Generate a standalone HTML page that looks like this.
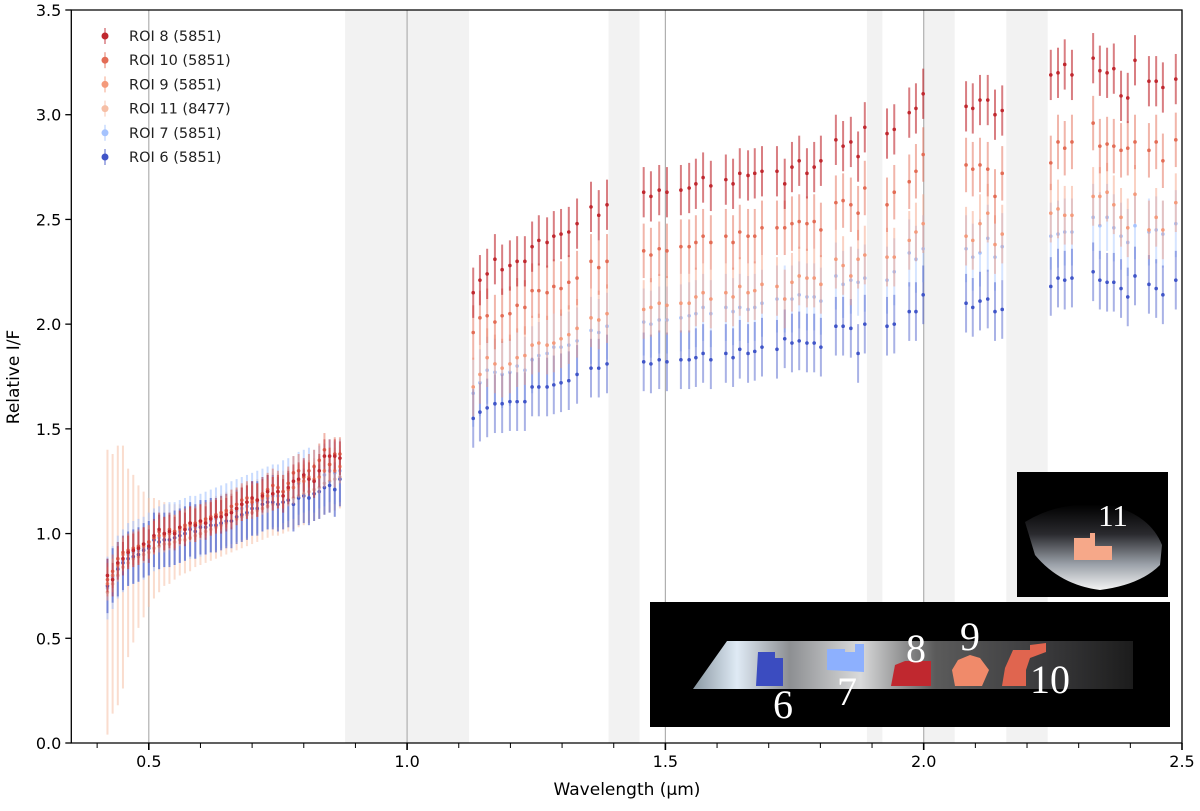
<!DOCTYPE html>
<html><head><meta charset="utf-8"><style>
body{margin:0;background:#fff}
svg text{font-family:"DejaVu Sans","Liberation Sans",sans-serif}
svg text.serif{font-family:"Liberation Serif",serif}
</style></head><body>
<svg id="chart" width="1200" height="806" xmlns="http://www.w3.org/2000/svg">
<g id="bands"></g>
<g id="vlines"></g>
<g id="marks"></g>
<g id="insets">
 <rect x="1017" y="472" width="151" height="125" fill="#000"/>
 <defs><linearGradient id="moon" x1="0" x2="0" y1="0" y2="1"><stop offset="0" stop-color="#000"/><stop offset="0.35" stop-color="#2a2a2e"/><stop offset="0.7" stop-color="#9aa0a8"/><stop offset="1" stop-color="#f4f4f4"/></linearGradient>
 <linearGradient id="strip" x1="0" x2="1"><stop offset="0" stop-color="#8a98a2"/><stop offset="0.1" stop-color="#dfeaf5"/><stop offset="0.22" stop-color="#8d8f92"/><stop offset="0.38" stop-color="#d9dadb"/><stop offset="0.55" stop-color="#5b5b5b"/><stop offset="0.8" stop-color="#3a3a3c"/><stop offset="1" stop-color="#1c1c1c"/></linearGradient></defs>
 <path d="M1025,522 Q1060,500 1110,505 Q1150,515 1162,545 L1160,565 Q1140,585 1100,590 Q1060,585 1035,555 Z" fill="url(#moon)"/>
 <path d="M1074,538 L1090,538 L1090,533 L1095,533 L1095,546 L1112,546 L1112,560 L1074,560 Z" fill="#f6a889"/>
 <text class="serif" x="1113" y="526" fill="#fff" font-size="31" text-anchor="middle">11</text>
 <rect x="650" y="602" width="520" height="125" fill="#000"/>
 <path d="M727,641 L1133,641 L1133,689 L693,689 Z" fill="url(#strip)"/>
 <path d="M758,652 L775,652 L775,658 L783,658 L783,686 L756,686 Z" fill="#3b4cc0"/>
 <path d="M827,649 L845,649 L845,652 L855,652 L855,644 L864,644 L864,672 L827,670 Z" fill="#8db0fe"/>
 <path d="M895,665 L905,661 L931,661 L931,686 L891,686 Z" fill="#c0282f"/>
 <path d="M958,660 L970,655 L980,658 L989,670 L982,686 L955,686 L952,670 Z" fill="#f08a6a"/>
 <path d="M1013,650 L1030,650 L1030,645 L1046,643 L1046,652 L1030,658 L1026,670 L1026,686 L1002,686 L1005,668 Z" fill="#e0654f"/>
 <g fill="#fff" font-size="40">
  <text class="serif" x="783" y="718" text-anchor="middle">6</text>
  <text class="serif" x="847" y="705" text-anchor="middle">7</text>
  <text class="serif" x="916" y="662" text-anchor="middle">8</text>
  <text class="serif" x="970" y="650" text-anchor="middle">9</text>
  <text class="serif" x="1050" y="693" text-anchor="middle">10</text>
 </g>
</g>
<g id="axes"></g>
<g id="legend"></g>
<text x="627" y="795" font-size="17" text-anchor="middle">Wavelength (µm)</text>
<text transform="translate(19,377) rotate(-90)" font-size="17" text-anchor="middle">Relative I/F</text>
</svg>
<script>
const xTicks=[0.5,1.0,1.5,2.0,2.5];
const xTickLabels=["0.5","1.0","1.5","2.0","2.5"];
const yTicks=[0,0.5,1,1.5,2,2.5,3,3.5];
const yTickLabels=["0.0","0.5","1.0","1.5","2.0","2.5","3.0","3.5"];
const gapBands=[[0.88,1.12],[1.39,1.45],[1.89,1.92],[2.0,2.06],[2.16,2.24]];
const visWl=[0.42,0.43,0.44,0.45,0.46,0.47,0.48,0.49,0.50,0.51,0.52,0.53,0.54,0.55,0.56,0.57,0.58,0.59,0.60,0.61,0.62,0.63,0.64,0.65,0.66,0.67,0.68,0.69,0.70,0.71,0.72,0.73,0.74,0.75,0.76,0.77,0.78,0.79,0.80,0.81,0.82,0.83,0.84,0.85,0.86,0.87];
const nirWl=[1.128,1.141,1.155,1.170,1.184,1.199,1.213,1.228,1.242,1.255,1.271,1.284,1.298,1.313,1.329,1.356,1.371,1.387,
1.458,1.472,1.488,1.503,1.530,1.546,1.559,1.573,1.588,1.617,1.631,1.644,1.660,1.673,1.687,1.716,1.731,1.745,1.759,1.774,1.788,1.801,1.830,1.844,1.859,1.873,1.886,
1.929,1.943,1.972,1.985,1.999,
2.082,2.095,2.109,2.124,2.138,2.152,
2.246,2.260,2.273,2.287,2.328,2.341,2.355,2.368,2.382,2.395,2.409,2.436,2.450,2.463,2.488];
const roi8Vis=[0.80,0.78,0.86,0.88,0.91,0.92,0.93,0.95,0.94,0.99,1.02,1.00,1.01,1.00,1.03,1.02,1.05,1.04,1.06,1.05,1.07,1.08,1.08,1.09,1.10,1.12,1.14,1.15,1.17,1.16,1.18,1.20,1.19,1.20,1.18,1.22,1.25,1.26,1.28,1.26,1.25,1.30,1.37,1.37,1.37,1.36];
const roi10Vis=[0.78,0.82,0.88,0.91,0.92,0.93,0.94,0.95,0.96,0.98,1.01,1.00,1.02,1.01,1.03,1.04,1.05,1.05,1.06,1.07,1.08,1.09,1.10,1.11,1.13,1.14,1.16,1.17,1.15,1.16,1.19,1.21,1.23,1.22,1.20,1.24,1.29,1.30,1.27,1.30,1.32,1.35,1.40,1.33,1.38,1.38];
const roi9Vis=[0.76,0.80,0.85,0.90,0.91,0.92,0.93,0.94,0.96,0.98,0.99,0.99,1.00,1.01,1.02,1.03,1.04,1.04,1.05,1.06,1.07,1.08,1.09,1.10,1.11,1.12,1.14,1.15,1.16,1.16,1.17,1.18,1.19,1.20,1.20,1.21,1.22,1.25,1.25,1.27,1.26,1.27,1.30,1.33,1.30,1.32];
const roi11Vis=[0.72,0.76,0.80,0.84,0.86,0.88,0.89,0.90,0.91,0.93,0.94,0.95,0.95,0.96,0.97,0.97,0.98,0.99,1.00,1.01,1.02,1.03,1.04,1.05,1.06,1.07,1.08,1.09,1.10,1.11,1.12,1.13,1.14,1.14,1.15,1.16,1.17,1.18,1.19,1.20,1.21,1.22,1.24,1.25,1.26,1.27];
const roi7Vis=[0.74,0.79,0.84,0.87,0.90,0.91,0.92,0.93,0.95,0.97,0.98,0.99,1.00,1.00,1.01,1.02,1.03,1.03,1.04,1.05,1.06,1.07,1.08,1.09,1.10,1.11,1.12,1.13,1.14,1.15,1.16,1.17,1.18,1.18,1.20,1.21,1.22,1.24,1.25,1.26,1.25,1.27,1.28,1.30,1.29,1.30];
const roi6Vis=[0.75,0.80,0.83,0.86,0.88,0.89,0.90,0.92,0.93,0.97,0.96,0.97,0.97,0.98,0.99,1.00,1.02,1.01,1.03,1.03,1.04,1.04,1.05,1.06,1.06,1.08,1.09,1.10,1.12,1.12,1.14,1.15,1.15,1.14,1.15,1.16,1.14,1.17,1.18,1.17,1.19,1.20,1.22,1.23,1.21,1.26];
const roi11VisErr=[0.68,0.62,0.62,0.58,0.45,0.40,0.34,0.30,0.26,0.24,0.22,0.20,0.19,0.18,0.17,0.16,0.16,0.15,0.15,0.15,0.15,0.15,0.15,0.15,0.15,0.15,0.15,0.15,0.15,0.15,0.15,0.15,0.15,0.15,0.15,0.15,0.15,0.15,0.15,0.15,0.15,0.15,0.15,0.15,0.15,0.15];
const roi8Nir=[2.15,2.21,2.24,2.31,2.26,2.28,2.30,2.30,2.37,2.40,2.39,2.42,2.43,2.44,2.48,2.56,2.52,2.57,
2.63,2.61,2.64,2.63,2.64,2.65,2.67,2.70,2.66,2.69,2.67,2.72,2.71,2.72,2.73,2.73,2.67,2.75,2.78,2.72,2.75,2.78,2.88,2.85,2.87,2.80,2.94,
2.91,2.93,3.01,3.03,3.10, 3.04,3.03,3.07,3.07,3.00,3.02,
3.19,3.20,3.24,3.19,3.27,3.21,3.20,3.22,3.09,3.08,3.26,3.16,3.16,3.13,3.17];
const roi10Nir=[1.96,2.03,2.04,2.01,2.04,2.05,2.09,2.08,2.16,2.16,2.15,2.18,2.17,2.20,2.22,2.30,2.27,2.30,
2.35,2.33,2.36,2.35,2.37,2.37,2.39,2.42,2.39,2.42,2.39,2.44,2.42,2.42,2.46,2.46,2.46,2.48,2.49,2.48,2.49,2.45,2.58,2.59,2.57,2.53,2.65,
2.57,2.63,2.68,2.73,2.81, 2.76,2.74,2.76,2.74,2.61,2.72,
2.77,2.87,2.84,2.87,2.96,2.85,2.86,2.85,2.83,2.84,2.87,2.83,2.87,2.78,2.88];
const roi9Nir=[1.70,1.76,1.84,1.81,1.79,1.81,1.84,1.85,1.90,1.91,1.90,1.91,1.93,1.95,1.98,2.03,2.02,2.05,
2.07,2.08,2.10,2.09,2.10,2.10,2.13,2.15,2.12,2.15,2.13,2.18,2.15,2.16,2.19,2.18,2.12,2.20,2.23,2.22,2.22,2.19,2.31,2.28,2.23,2.31,2.33,
2.32,2.32,2.40,2.44,2.48, 2.42,2.40,2.48,2.53,2.38,2.43,
2.53,2.55,2.52,2.52,2.61,2.61,2.63,2.57,2.51,2.46,2.62,2.45,2.51,2.45,2.58];
const roi7Nir=[1.67,1.72,1.78,1.77,1.76,1.77,1.80,1.78,1.83,1.85,1.86,1.89,1.89,1.90,1.92,1.97,1.96,1.99,
2.01,2.00,2.02,2.02,2.03,2.04,2.05,2.08,2.05,2.08,2.06,2.08,2.07,2.08,2.10,2.12,2.12,2.12,2.14,2.13,2.13,2.11,2.23,2.19,2.21,2.20,2.22,
2.21,2.25,2.34,2.31,2.36, 2.36,2.32,2.34,2.41,2.32,2.37,
2.42,2.43,2.44,2.44,2.51,2.47,2.51,2.46,2.42,2.39,2.47,2.44,2.45,2.43,2.48];
const roi6Nir=[1.55,1.58,1.60,1.62,1.62,1.63,1.63,1.63,1.70,1.70,1.70,1.71,1.72,1.73,1.76,1.79,1.79,1.81,
1.82,1.81,1.83,1.82,1.83,1.83,1.84,1.86,1.83,1.86,1.84,1.88,1.86,1.87,1.89,1.88,1.93,1.91,1.92,1.91,1.91,1.89,1.99,1.99,1.98,1.86,2.00,
1.99,2.00,2.06,2.06,2.14, 2.10,2.08,2.11,2.12,2.06,2.07,
2.18,2.22,2.21,2.22,2.25,2.21,2.20,2.20,2.17,2.13,2.23,2.19,2.17,2.14,2.21];
const seriesNames=["ROI 8 (5851)","ROI 10 (5851)","ROI 9 (5851)","ROI 11 (8477)","ROI 7 (5851)","ROI 6 (5851)"];
const seriesColors=["#c0282f","#e36c55","#f49a7b","#f6bfa6","#a5c3fe","#4055c8"];

const NS="http://www.w3.org/2000/svg";
const X0=71.3,X1=1182,Y0=743,Y1=10,XMIN=0.35,XMAX=2.5,YMIN=0,YMAX=3.5;
const sx=v=>X0+(v-XMIN)/(XMAX-XMIN)*(X1-X0);
const sy=v=>Y0-(v-YMIN)/(YMAX-YMIN)*(Y0-Y1);
function mk(tag,attrs,parent){const e=document.createElementNS(NS,tag);for(const k in attrs)e.setAttribute(k,attrs[k]);parent.appendChild(e);return e;}

const bands=document.getElementById('bands');
gapBands.forEach(b=>{const r=mk('rect',{x:sx(b[0]),y:Y1,width:sx(b[1])-sx(b[0]),height:Y0-Y1,fill:'#f2f2f2'},bands);

});
const vl=document.getElementById('vlines');
[0.5,1.0,1.5,2.0].forEach(v=>{const l=mk('line',{x1:sx(v),x2:sx(v),y1:Y1,y2:Y0,stroke:'#b0b0b0','stroke-width':1.2},vl);

});

const marks=document.getElementById('marks');
function drawSeries(wl,vals,err,color,name,errOp){
  const g=mk('g',{},marks);
  
  
  wl.forEach((w,i)=>{const e=Array.isArray(err)?err[i]:err;
    const l=mk('line',{x1:sx(w),x2:sx(w),y1:sy(vals[i]-e),y2:sy(vals[i]+e),stroke:color,'stroke-width':2,'stroke-opacity':errOp},g);
    
    });
  wl.forEach((w,i)=>{const c=mk('circle',{cx:sx(w),cy:sy(vals[i]),r:1.8,fill:color},g);
    
    });
}
drawSeries(visWl,roi11Vis,roi11VisErr,seriesColors[3],'roi-11-visible',0.55);
drawSeries(visWl,roi7Vis,0.15,seriesColors[4],'roi-7-visible',0.6);
drawSeries(visWl,roi6Vis,0.13,seriesColors[5],'roi-6-visible',0.6);
drawSeries(visWl,roi9Vis,0.08,seriesColors[2],'roi-9-visible',0.5);
drawSeries(visWl,roi10Vis,0.08,seriesColors[1],'roi-10-visible',0.5);
drawSeries(visWl,roi8Vis,0.08,seriesColors[0],'roi-8-visible',0.5);
drawSeries(nirWl,roi7Nir,0.16,seriesColors[4],'roi-7-nir',0.45);
drawSeries(nirWl,roi6Nir,0.14,seriesColors[5],'roi-6-nir',0.45);
drawSeries(nirWl,roi9Nir,0.14,seriesColors[2],'roi-9-nir',0.45);
drawSeries(nirWl,roi10Nir,0.13,seriesColors[1],'roi-10-nir',0.5);
drawSeries(nirWl,roi8Nir,0.12,seriesColors[0],'roi-8-nir',0.6);

const ax=document.getElementById('axes');
const spine=mk('path',{d:`M${X0},${Y1} L${X0},${Y0} L${X1},${Y0} L${X1},${Y1} Z`,fill:'none',stroke:'#000','stroke-width':1.3},ax);


for(let v=0.4;v<=2.501;v+=0.1){const t=mk('line',{x1:sx(v),x2:sx(v),y1:Y0,y2:Y0+5,stroke:'#000','stroke-width':1},ax);

}
xTicks.forEach((v,i)=>{const t=mk('line',{x1:sx(v),x2:sx(v),y1:Y0,y2:Y0+7,stroke:'#000','stroke-width':1.6},ax);


const tx=mk('text',{x:sx(v),y:Y0+24,'font-size':16,'text-anchor':'middle'},ax);tx.textContent=xTickLabels[i];

});
yTicks.forEach((v,i)=>{const t=mk('line',{x1:X0-6,x2:X0,y1:sy(v),y2:sy(v),stroke:'#000','stroke-width':1.3},ax);


const tx=mk('text',{x:X0-10,y:sy(v)+6,'font-size':16,'text-anchor':'end'},ax);tx.textContent=yTickLabels[i];

});

const lg=document.getElementById('legend');
seriesNames.forEach((n,i)=>{const y=36+i*24.2;
 const g=mk('g',{},lg);
 
 
 mk('line',{x1:105,x2:105,y1:y-8,y2:y+8,stroke:seriesColors[i],'stroke-width':1.5,'stroke-opacity':0.6},g);
 mk('circle',{cx:105,cy:y,r:3.5,fill:seriesColors[i]},g);
 const t=mk('text',{x:129,y:y+5,'font-size':14.5,fill:'#222'},g);t.textContent=n;});
</script>
</body></html>
